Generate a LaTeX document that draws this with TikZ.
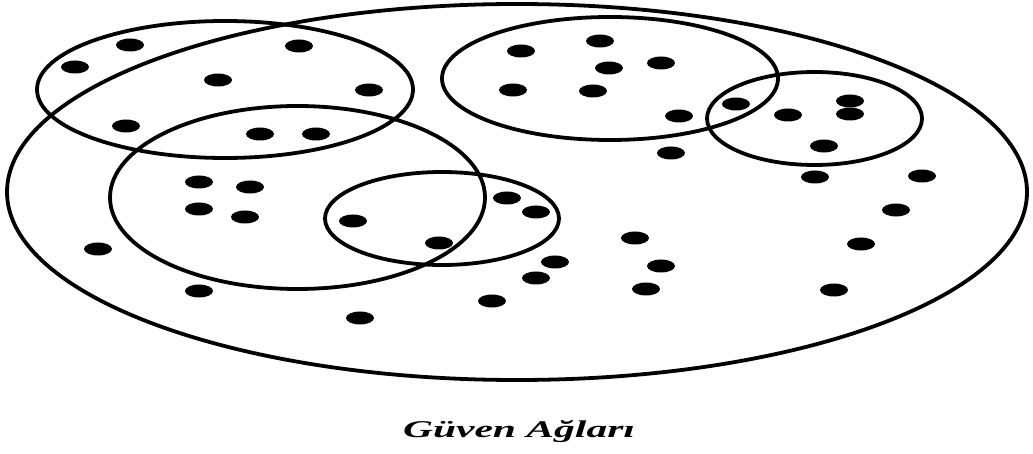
\documentclass[tikz,border=0pt]{standalone}
\usepackage{fontspec}
\setmainfont{Liberation Serif}
\usepackage{graphicx}
\begin{document}
\begin{tikzpicture}[x=1pt,y=-1pt,
  ring/.style={draw=black,line width=3.8pt},
  dotmark/.style={fill=black}]
\useasboundingbox (0,0) rectangle (1033,454);
% outer set
\draw[ring] (517,192) ellipse [x radius=510pt, y radius=188pt];
% subsets
\draw[ring] (225,89.5) ellipse [x radius=188pt, y radius=68.5pt];
\draw[ring] (297.5,197.5) ellipse [x radius=187.5pt, y radius=91.5pt];
\draw[ring] (442,218.5) ellipse [x radius=117pt, y radius=46.5pt];
\draw[ring] (610,78.5) ellipse [x radius=168pt, y radius=61.5pt];
\draw[ring] (814.5,118.5) ellipse [x radius=107.5pt, y radius=46.5pt];
% members
\foreach \x/\y in {130/45, 75/67, 299/46, 218/80, 369/90, 126/126, 260/134, 316/134,
  199/182, 250/187, 199/209, 245/217, 353/221, 439/243, 98/249, 199/291, 360/318,
  492/301, 507/198, 536/212, 521/51, 600/41, 661/63, 609/68, 513/90, 593/91,
  679/116, 736/104, 788/115, 850/101, 850/114, 824/146, 671/153, 815/177, 922/176,
  896/210, 635/238, 861/244, 555/262, 661/266, 536/278, 646/289, 834/290}
  \fill[dotmark] (\x,\y) ellipse [x radius=14pt, y radius=6.5pt];
\node[inner sep=0pt] (title) at (519,432)
  {\resizebox{232pt}{\height}{\fontsize{24}{28}\selectfont\bfseries\itshape Güven Ağları}};
\end{tikzpicture}
\end{document}
